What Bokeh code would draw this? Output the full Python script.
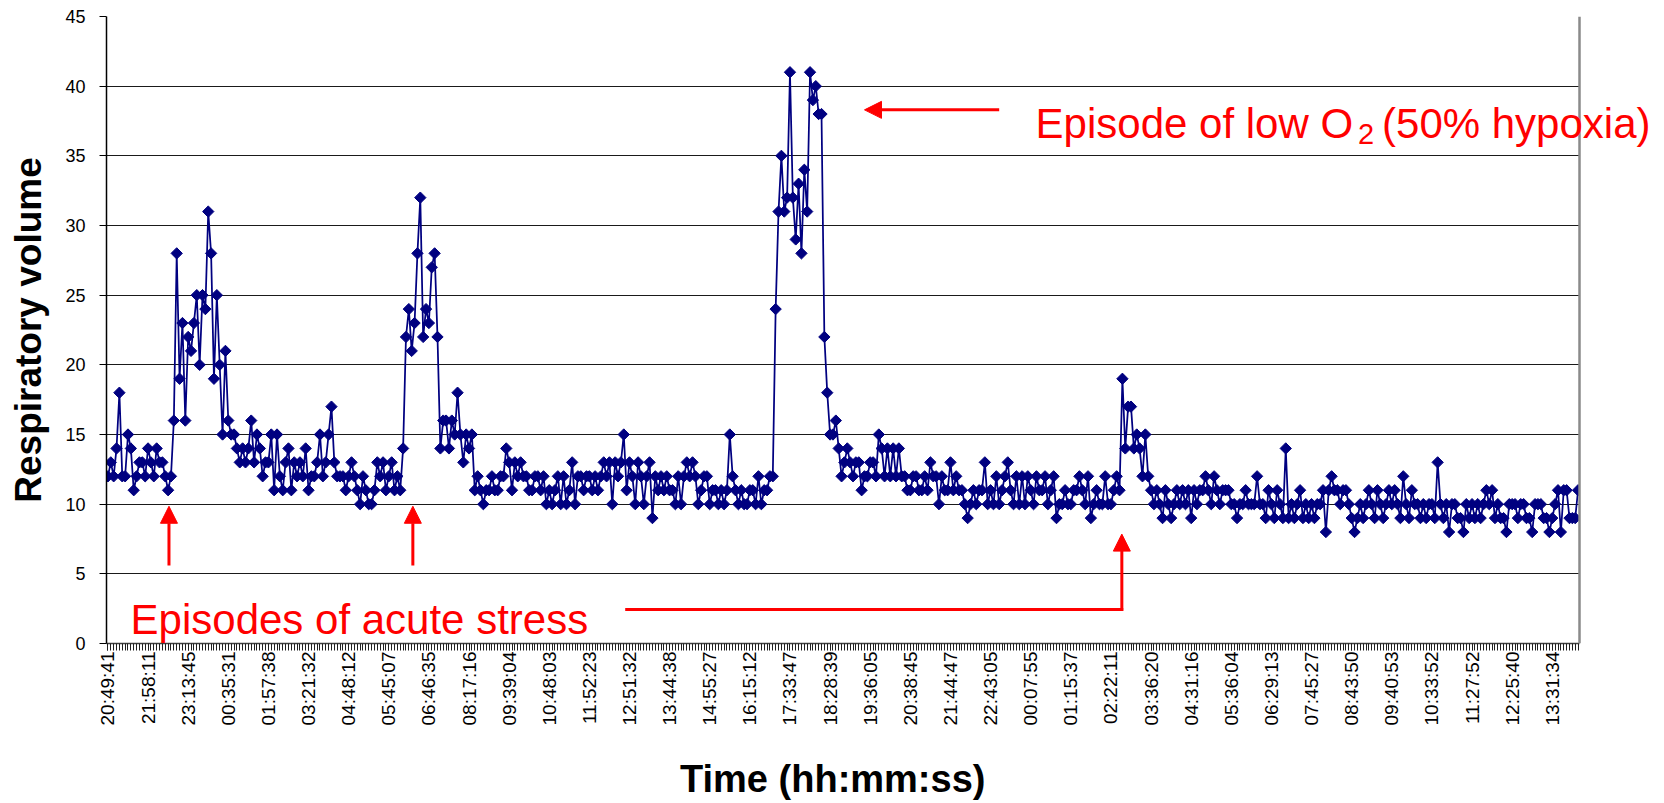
from math import pi
from bokeh.plotting import figure
from bokeh.models import (ColumnDataSource, Range1d, FixedTicker, Label, Arrow,
                          NormalHead, BoxAnnotation, Span)
from bokeh.embed import file_html
from bokeh.resources import INLINE

# ---------------- data ----------------
resp_volume = [
    12, 13, 12, 14, 18, 12, 12, 15, 14, 11, 12, 13, 13, 12,
    14, 13, 12, 14, 13, 13, 12, 11, 12, 16, 28, 19, 23, 16,
    22, 21, 23, 25, 20, 25, 24, 31, 28, 19, 25, 20, 15, 21,
    16, 15, 15, 14, 13, 14, 13, 14, 16, 13, 15, 14, 12, 13,
    13, 15, 11, 15, 12, 11, 13, 14, 11, 13, 12, 13, 12, 14,
    11, 12, 12, 13, 15, 12, 13, 15, 17, 13, 12, 12, 12, 11,
    12, 13, 12, 11, 10, 12, 11, 10, 10, 11, 13, 12, 13, 11,
    12, 13, 11, 12, 11, 14, 22, 24, 21, 23, 28, 32, 22, 24,
    23, 27, 28, 22, 14, 16, 16, 14, 16, 15, 18, 15, 13, 15,
    14, 15, 11, 12, 11, 10, 11, 11, 12, 11, 11, 12, 12, 14,
    13, 11, 13, 12, 13, 12, 12, 11, 11, 12, 12, 11, 12, 10,
    11, 10, 11, 12, 10, 12, 10, 11, 13, 10, 12, 12, 11, 12,
    12, 11, 12, 11, 12, 13, 12, 13, 10, 13, 12, 13, 15, 11,
    13, 12, 10, 13, 12, 10, 12, 13, 9, 12, 11, 12, 11, 12,
    11, 11, 10, 12, 10, 12, 13, 12, 13, 12, 10, 11, 12, 12,
    10, 11, 11, 10, 11, 10, 11, 15, 12, 11, 10, 11, 10, 10,
    11, 11, 10, 12, 10, 11, 11, 12, 12, 24, 31, 35, 31, 32,
    41, 32, 29, 33, 28, 34, 31, 41, 39, 40, 38, 38, 22, 18,
    15, 15, 16, 14, 12, 13, 14, 13, 12, 13, 13, 11, 12, 12,
    13, 13, 12, 15, 14, 12, 14, 12, 14, 12, 14, 12, 12, 11,
    11, 12, 12, 11, 11, 12, 11, 13, 12, 12, 10, 12, 11, 11,
    13, 11, 12, 11, 11, 10, 9, 10, 11, 10, 11, 11, 13, 10,
    11, 10, 12, 10, 11, 12, 13, 11, 10, 12, 10, 12, 10, 12,
    11, 10, 12, 11, 11, 12, 10, 11, 12, 9, 10, 10, 11, 10,
    10, 11, 11, 12, 11, 10, 12, 9, 10, 11, 10, 10, 12, 10,
    10, 11, 12, 11, 19, 14, 17, 17, 14, 15, 14, 12, 15, 12,
    11, 10, 11, 10, 9, 11, 10, 9, 10, 11, 10, 11, 10, 11,
    9, 11, 10, 11, 11, 12, 11, 10, 12, 11, 10, 11, 11, 11,
    10, 10, 9, 10, 10, 11, 10, 10, 10, 12, 10, 10, 9, 11,
    10, 9, 11, 10, 9, 14, 9, 10, 9, 10, 11, 9, 10, 9,
    10, 9, 10, 10, 11, 8, 11, 12, 11, 11, 10, 11, 11, 10,
    9, 8, 9, 10, 9, 10, 11, 10, 9, 11, 10, 9, 10, 11,
    10, 11, 10, 9, 12, 10, 9, 11, 10, 10, 9, 10, 9, 10,
    10, 9, 13, 10, 9, 10, 8, 10, 10, 9, 9, 8, 10, 9,
    10, 9, 10, 9, 10, 11, 10, 11, 9, 10, 9, 9, 8, 10,
    10, 10, 9, 10, 10, 9, 9, 8, 10, 10, 10, 9, 9, 8,
    9, 10, 11, 8, 11, 11, 9, 9, 9, 11,
]

tick_labels = [
    "20:49:41", "21:58:11", "23:13:45", "00:35:31", "01:57:38", "03:21:32",
    "04:48:12", "05:45:07", "06:46:35", "08:17:16", "09:39:04", "10:48:03",
    "11:52:23", "12:51:32", "13:44:38", "14:55:27", "16:15:12", "17:33:47",
    "18:28:39", "19:36:05", "20:38:45", "21:44:47", "22:43:05", "00:07:55",
    "01:15:37", "02:22:11", "03:36:20", "04:31:16", "05:36:04", "06:29:13",
    "07:45:27", "08:43:50", "09:40:53", "10:33:52", "11:27:52", "12:25:40",
    "13:31:34",
]
label_step = 14
y_ticks = [0, 5, 10, 15, 20, 25, 30, 35, 40, 45]

# ---------------- layout constants ----------------
W, H = 1664, 803
FRAME_LEFT, FRAME_TOP, FRAME_BOTTOM = 106, 16, 643
PLOT_RIGHT = 1579            # right border of the plotted area
n = len(resp_volume)
px_per_cat = (PLOT_RIGHT - FRAME_LEFT) / n
# frame is extended to the canvas edge so texts are not clipped
x_end = -0.5 + (W - FRAME_LEFT) / px_per_cat

x = list(range(n))
src = ColumnDataSource(dict(x=x, y=resp_volume))

FONT = "Liberation Sans"
RED = "#FF0000"
NAVY = "#000080"

p = figure(width=W, height=H, output_backend="svg", toolbar_location=None,
           x_range=Range1d(-0.5, x_end), y_range=Range1d(0, 45),
           min_border_left=FRAME_LEFT, min_border_right=0,
           min_border_top=FRAME_TOP, min_border_bottom=H - FRAME_BOTTOM)
p.background_fill_color = "white"
p.border_fill_color = "white"
p.outline_line_color = None

p.line("x", "y", source=src, line_color=NAVY, line_width=1.75)
p.scatter("x", "y", source=src, marker="square", angle=pi / 4, size=8,
          fill_color=NAVY, line_color=NAVY)

# x axis
major = [i * label_step for i in range(len(tick_labels))]
p.xaxis.bounds = (-0.5, n - 0.5)
p.xaxis.ticker = FixedTicker(ticks=major, minor_ticks=x)
p.xaxis.major_label_overrides = {m: t for m, t in zip(major, tick_labels)}
p.xaxis.major_label_orientation = pi / 2
p.xaxis.major_label_text_font = FONT
p.xaxis.major_label_text_font_size = "19px"
p.xaxis.major_label_text_color = "black"
p.xaxis.major_label_standoff = 1
p.xaxis.major_tick_out = 7
p.xaxis.major_tick_in = 0
p.xaxis.minor_tick_out = 7
p.xaxis.minor_tick_in = 0
p.xaxis.major_tick_line_color = "#202020"
p.xaxis.minor_tick_line_color = "#202020"
p.xaxis.axis_line_color = "#404040"
p.xaxis.axis_line_width = 1.5
# the frame reaches the canvas edge; trailing no-break spaces re-centre the
# title under the plotted area as in the reference
p.xaxis.axis_label = "Time (hh:mm:ss)" + "\u00a0" * 10
p.xaxis.axis_label_text_font = FONT
p.xaxis.axis_label_text_font_style = "bold"
p.xaxis.axis_label_text_font_size = "38px"
p.xaxis.axis_label_text_color = "black"
p.xaxis.axis_label_standoff = 30

# y axis
p.yaxis.ticker = FixedTicker(ticks=y_ticks)
p.yaxis.major_label_text_font = FONT
p.yaxis.major_label_text_font_size = "18px"
p.yaxis.major_label_text_color = "black"
p.yaxis.major_label_standoff = 14
p.yaxis.major_tick_out = 7
p.yaxis.major_tick_in = 0
p.yaxis.minor_tick_line_color = None
p.yaxis.axis_line_color = "black"
p.yaxis.axis_line_width = 1.5
p.yaxis.axis_label = "Respiratory volume"
p.yaxis.axis_label_text_font = FONT
p.yaxis.axis_label_text_font_style = "bold"
p.yaxis.axis_label_text_font_size = "37px"
p.yaxis.axis_label_text_color = "black"
p.yaxis.axis_label_standoff = 13

p.xgrid.visible = False
p.ygrid.ticker = FixedTicker(ticks=y_ticks)
p.ygrid.grid_line_color = "#1a1a1a"
p.ygrid.grid_line_width = 1

# mask right of the plotted area, and its grey right border
p.add_layout(BoxAnnotation(left=n - 0.5, fill_color="white", fill_alpha=1.0,
                           line_color=None))
p.add_layout(Span(location=n - 0.5, dimension="height", line_color="#8a8a8a",
                  line_width=2.5))

# ---------------- annotations ----------------
head = dict(size=17, fill_color=RED, line_color=RED)

# hypoxia episode arrow + label
p.add_layout(Arrow(end=NormalHead(**head), x_start=311.0, y_start=38.3,
                   x_end=264.0, y_end=38.3, line_color=RED, line_width=3))
p.add_layout(Label(x=323.7, y=37.3, text="Episode of low O", text_font=FONT,
                   text_font_size="42px", text_color=RED,
                   text_baseline="alphabetic"))
p.add_layout(Label(x=436.2, y=36.6, text="2", text_font=FONT,
                   text_font_size="29px", text_color=RED,
                   text_baseline="alphabetic"))
p.add_layout(Label(x=444.6, y=37.3, text="(50% hypoxia)", text_font=FONT,
                   text_font_size="42px", text_color=RED,
                   text_baseline="alphabetic"))

# acute stress label, vertical arrows and elbow arrow
p.add_layout(Label(x=7.9, y=1.72, text="Episodes of acute stress",
                   text_font=FONT, text_font_size="42px", text_color=RED,
                   text_baseline="alphabetic"))
for xa in (21.3, 106.4):
    p.add_layout(Arrow(end=NormalHead(**head), x_start=xa, y_start=5.6,
                       x_end=xa, y_end=9.85, line_color=RED, line_width=3))
p.add_layout(Arrow(end=None, x_start=180.5, y_start=2.44, x_end=354.3,
                   y_end=2.44, line_color=RED, line_width=3))
p.add_layout(Arrow(end=NormalHead(**head), x_start=353.8, y_start=2.35,
                   x_end=353.8, y_end=7.85, line_color=RED, line_width=3))

open("out.html", "w").write(file_html(p, INLINE))
